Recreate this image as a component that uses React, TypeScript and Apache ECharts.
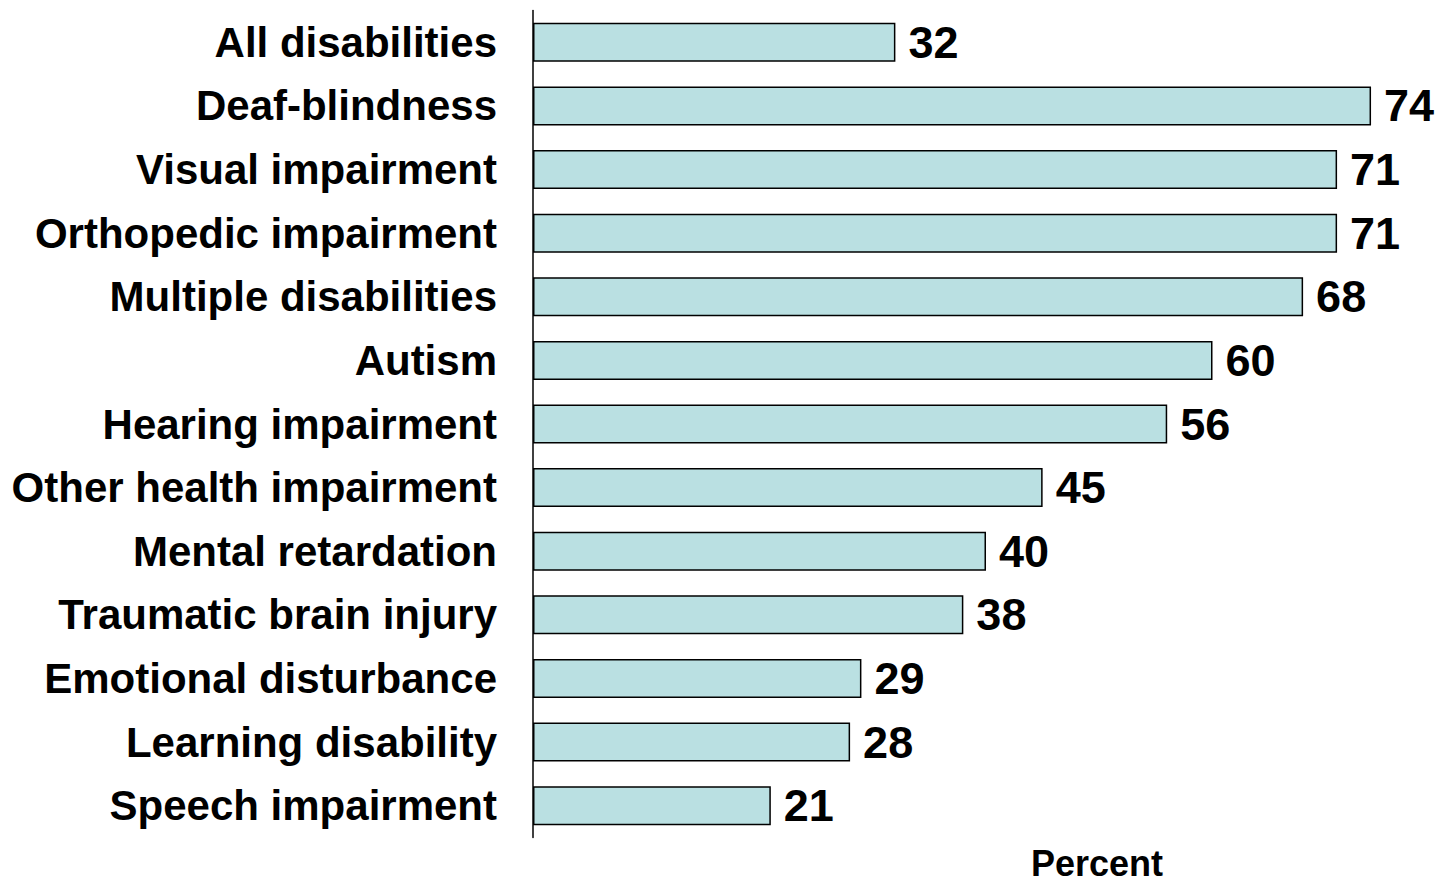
import React, { useEffect, useRef } from "react";
import * as echarts from "echarts";

const categories = [
  "All disabilities",
  "Deaf-blindness",
  "Visual impairment",
  "Orthopedic impairment",
  "Multiple disabilities",
  "Autism",
  "Hearing impairment",
  "Other health impairment",
  "Mental retardation",
  "Traumatic brain injury",
  "Emotional disturbance",
  "Learning disability",
  "Speech impairment",
];
const values = [32, 74, 71, 71, 68, 60, 56, 45, 40, 38, 29, 28, 21];
const axisTitle = "Percent";

export default function App() {
  const ref = useRef<HTMLDivElement>(null);
  useEffect(() => {
    if (!ref.current) return;
    const chart = echarts.init(ref.current, null, { renderer: "svg" });
    const font = "'Liberation Sans', Arial, sans-serif";
    chart.setOption({
      animation: false,
      backgroundColor: "#ffffff",
      grid: { left: 533, top: 10.5, width: 911, height: 827, containLabel: false },
      xAxis: {
        type: "value",
        min: 0,
        max: 80,
        show: false,
      },
      yAxis: {
        type: "category",
        data: categories,
        inverse: true,
        axisLine: { show: true, lineStyle: { color: "#000", width: 1.5 } },
        axisTick: { show: false },
        axisLabel: {
          margin: 36,
          color: "#000",
          fontFamily: font,
          fontWeight: "bold",
          fontSize: 42,
        },
      },
      graphic: [
        {
          type: "text",
          left: 1031,
          top: 845,
          style: {
            text: axisTitle,
            fill: "#000",
            font: `bold 36px ${font}`,
          },
        },
      ],
      series: [
        {
          type: "bar",
          data: values,
          barWidth: 39,
          itemStyle: { color: "#bae0e2", borderColor: "#000", borderWidth: 1.5 },
          label: {
            show: true,
            position: "right",
            distance: 13,
            color: "#000",
            fontFamily: font,
            fontWeight: "bold",
            fontSize: 45,
          },
        },
      ],
    });
    return () => chart.dispose();
  }, []);
  return (
    <div
      ref={ref}
      style={{ position: "fixed", left: 0, top: 0, width: 1439, height: 885 }}
    />
  );
}
